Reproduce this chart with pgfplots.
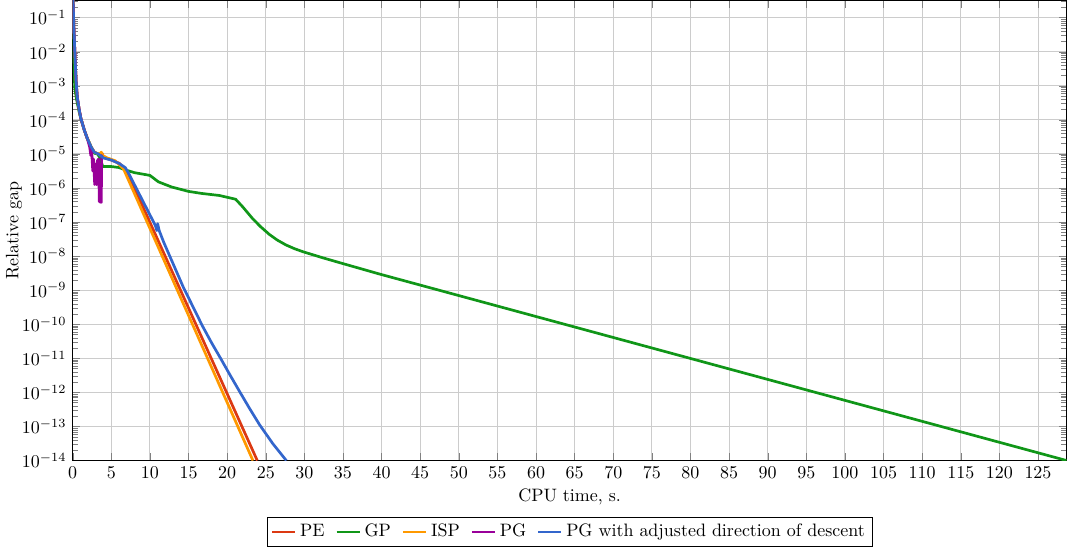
\documentclass[border=0pt]{standalone}
\usepackage{pgfplots}
\pgfplotsset{compat=1.18}
\definecolor{cPE}{HTML}{DC3912}
\definecolor{cGP}{HTML}{109618}
\definecolor{cISP}{HTML}{FF9900}
\definecolor{cPG}{HTML}{990099}
\definecolor{cPGA}{HTML}{3366CC}
\begin{document}
\begin{tikzpicture}
\begin{axis}[
  scale only axis, width=553pt, height=256pt,
  ymode=log, xmin=0, xmax=128.7, ymin=1e-14, ymax=0.32,
  xtick distance=5,
  ytick={1e-14,1e-13,1e-12,1e-11,1e-10,1e-9,1e-8,1e-7,1e-6,1e-5,1e-4,1e-3,1e-2,1e-1},
  minor ytick={2e-14,3e-14,4e-14,5e-14,6e-14,7e-14,8e-14,9e-14,
    2e-13,3e-13,4e-13,5e-13,6e-13,7e-13,8e-13,9e-13,
    2e-12,3e-12,4e-12,5e-12,6e-12,7e-12,8e-12,9e-12,
    2e-11,3e-11,4e-11,5e-11,6e-11,7e-11,8e-11,9e-11,
    2e-10,3e-10,4e-10,5e-10,6e-10,7e-10,8e-10,9e-10,
    2e-9,3e-9,4e-9,5e-9,6e-9,7e-9,8e-9,9e-9,
    2e-8,3e-8,4e-8,5e-8,6e-8,7e-8,8e-8,9e-8,
    2e-7,3e-7,4e-7,5e-7,6e-7,7e-7,8e-7,9e-7,
    2e-6,3e-6,4e-6,5e-6,6e-6,7e-6,8e-6,9e-6,
    2e-5,3e-5,4e-5,5e-5,6e-5,7e-5,8e-5,9e-5,
    2e-4,3e-4,4e-4,5e-4,6e-4,7e-4,8e-4,9e-4,
    2e-3,3e-3,4e-3,5e-3,6e-3,7e-3,8e-3,9e-3,
    2e-2,3e-2,4e-2,5e-2,6e-2,7e-2,8e-2,9e-2,
    2e-1,3e-1},
  grid=major, grid style={gray!40, line width=0.5pt},
  xlabel={CPU time, s.}, ylabel={Relative gap},
  xlabel style={yshift=1pt},
  ylabel shift=-7pt,
  legend columns=-1,
  legend style={at={(0.5,-0.122)}, anchor=north, inner sep=2pt,
    /tikz/every even column/.append style={column sep=4pt}},
  legend image code/.code={\draw[line width=1.5pt] (0cm,0cm) -- (0.45cm,0cm);},
  every axis plot/.append style={line width=1.5pt, line join=round},
]
% PE
\addplot[cPE] coordinates {
(0,1) (0.05,0.2818) (0.17,3.981e-2) (0.35,3.981e-3) (0.45,1.259e-3) (0.6,4.467e-4) (0.82,2.138e-4) (1.05,1.122e-4) (1.5,5.012e-5) (1.9,2.818e-5) (2.4,1.585e-5) (2.8,1.122e-5) (3.3,1e-5)
(3.6,8.913e-6) (3.8,1.047e-5) (4.0,7.943e-6) (5,6.607e-6) (6,5.370e-6) (6.7,3.802e-6) (7.1,2.818e-6) (23.9,1e-14)
};
\addlegendentry{PE}
% GP
\addplot[cGP] coordinates {
(0,1) (0.05,0.1585) (0.12,1.585e-2) (0.26,8.913e-4) (0.5,3.981e-4) (0.82,1.778e-4) (1.05,1.096e-4) (1.5,5.012e-5) (1.9,2.818e-5) (2.4,1.585e-5) (2.8,1.047e-5) (3.2,1e-5) (3.5,7.943e-6) (3.9,4.266e-6) (5,4.266e-6) (6,3.981e-6) (6.7,3.467e-6) (8,2.818e-6) (10,2.344e-6) (11.1,1.514e-6) (12.8,1.072e-6) (15,7.943e-7) (16.7,6.918e-7) (19,6.026e-7) (21.1,4.677e-7)
(22,2.818e-7) (23.3,1.259e-7) (24.3,7.413e-8) (25.45,4.365e-8) (26.5,2.951e-8) (27.6,2.138e-8) (28.7,1.660e-8) (29.8,1.349e-8) (32.4,8.913e-9) (35,6.026e-9) (39.8,2.951e-9) (128.7,1e-14)
};
\addlegendentry{GP}
% ISP
\addplot[cISP] coordinates {
(0,1) (0.05,0.2818) (0.17,3.981e-2) (0.35,3.981e-3) (0.45,1.259e-3) (0.6,4.467e-4) (0.82,2.138e-4) (1.05,1.122e-4) (1.5,5.012e-5) (1.9,2.818e-5) (2.4,1.585e-5) (2.8,1.122e-5) (3.3,1e-5)
(3.5,1e-5) (3.7,1.122e-5) (3.9,8.913e-6) (4.5,7.586e-6) (5.5,6.310e-6) (6.6,3.548e-6) (23.34,1e-14)
};
\addlegendentry{ISP}
% PG
\addplot[cPG] coordinates {
(0,1) (0.05,0.2818) (0.17,3.981e-2) (0.35,3.981e-3) (0.45,1.259e-3) (0.6,4.467e-4) (0.82,2.138e-4) (1.05,1.122e-4) (1.5,5.012e-5) (1.9,2.818e-5)
(2.2,1.585e-5) (2.35,8.913e-6) (2.45,1.259e-5) (2.6,3.162e-6) (2.7,7.079e-6) (2.85,1.259e-6) (2.95,5.012e-6) (3.1,1.259e-6) (3.2,6.310e-6) (3.35,7.079e-6) (3.45,3.981e-7) (3.7,3.802e-7) (3.75,8.913e-6) (3.85,7.943e-6)
};
\addlegendentry{PG}
% PG adjusted
\addplot[cPGA] coordinates {
(0,1) (0.05,0.2818) (0.17,3.981e-2) (0.35,3.981e-3) (0.45,1.259e-3) (0.6,4.467e-4) (0.82,2.138e-4) (1.05,1.122e-4) (1.5,5.012e-5) (1.9,2.818e-5) (2.4,1.585e-5) (2.8,1.122e-5) (3.3,1e-5)
(4.0,7.586e-6) (5,6.607e-6) (6,5.248e-6) (6.8,3.981e-6) (7.2,2.818e-6) (10.7,7.943e-8) (10.9,5.623e-8) (11.0,8.913e-8) (11.2,5.623e-8) (11.8,2.512e-8) (14.3,1.259e-9) (16.8,8.913e-11) (18,2.818e-11) (19.2,9.550e-12) (20.4,3.162e-12) (21.6,1.072e-12) (22.9,3.388e-13) (24.2,1.122e-13) (25.9,3.162e-14) (27.66,1e-14)
};
\addlegendentry{PG with adjusted direction of descent}
\end{axis}
\end{tikzpicture}
\end{document}
